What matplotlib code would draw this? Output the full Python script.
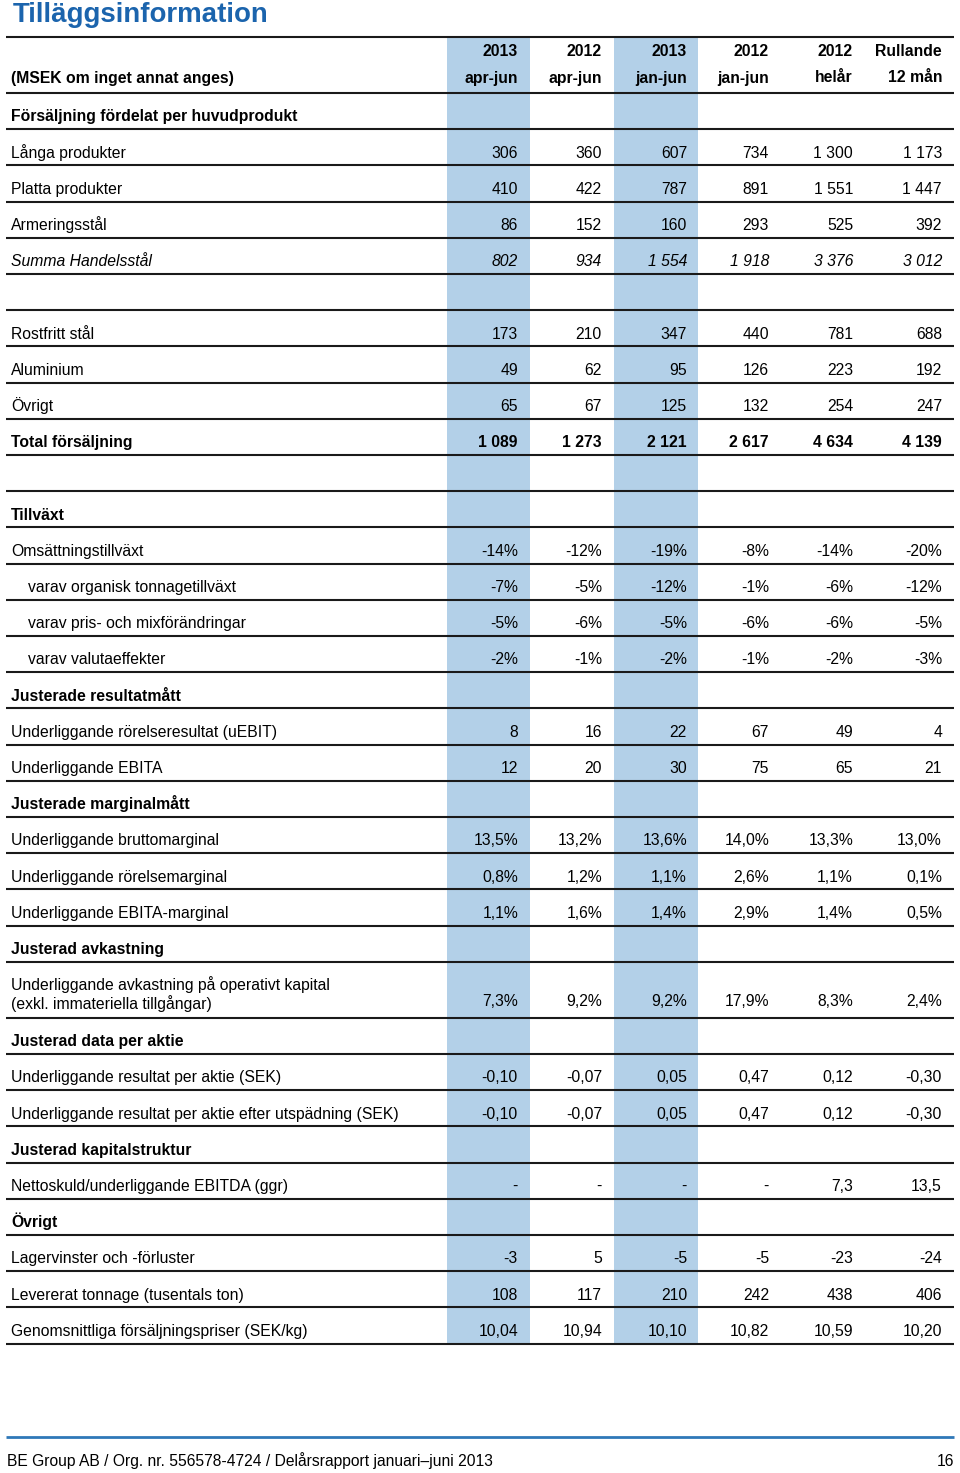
import matplotlib
matplotlib.use("Agg")
import matplotlib.pyplot as plt
from matplotlib import font_manager

names = {f.name for f in font_manager.fontManager.ttflist}
BODY = "Liberation Sans" if "Liberation Sans" in names else "DejaVu Sans"
NARROW = "Liberation Sans Narrow" if "Liberation Sans Narrow" in names else BODY

title = "Tilläggsinformation"
unit_label = "(MSEK om inget annat anges)"
col_head1 = ["2013", "2012", "2013", "2012", "2012", "Rullande"]
col_head2 = ["apr-jun", "apr-jun", "jan-jun", "jan-jun", "helår", "12 mån"]
highlight_cols = [0, 2]

labels = [
    "Försäljning fördelat per huvudprodukt", "Långa produkter", "Platta produkter",
    "Armeringsstål", "Summa Handelsstål", "", "Rostfritt stål", "Aluminium", "Övrigt",
    "Total försäljning", "", "Tillväxt", "Omsättningstillväxt",
    "varav organisk tonnagetillväxt", "varav pris- och mixförändringar",
    "varav valutaeffekter", "Justerade resultatmått",
    "Underliggande rörelseresultat (uEBIT)", "Underliggande EBITA",
    "Justerade marginalmått", "Underliggande bruttomarginal",
    "Underliggande rörelsemarginal", "Underliggande EBITA-marginal",
    "Justerad avkastning",
    "Underliggande avkastning på operativt kapital\n(exkl. immateriella tillgångar)",
    "Justerad data per aktie", "Underliggande resultat per aktie (SEK)",
    "Underliggande resultat per aktie efter utspädning (SEK)",
    "Justerad kapitalstruktur", "Nettoskuld/underliggande EBITDA (ggr)", "Övrigt",
    "Lagervinster och -förluster", "Levererat tonnage (tusentals ton)",
    "Genomsnittliga försäljningspriser (SEK/kg)",
]
# b = bold, i = italic, n = normal, s = indented
styles = ["b", "n", "n", "n", "i", "n", "n", "n", "n", "b", "n", "b", "n",
          "s", "s", "s", "b", "n", "n", "b", "n", "n", "n", "b", "n",
          "b", "n", "n", "b", "n", "b", "n", "n", "n"]

q2_2013 = ["", "306", "410", "86", "802", "", "173", "49", "65", "1 089", "", "",
           "-14%", "-7%", "-5%", "-2%", "", "8", "12", "", "13,5%", "0,8%", "1,1%",
           "", "7,3%", "", "-0,10", "-0,10", "", "-", "", "-3", "108", "10,04"]
q2_2012 = ["", "360", "422", "152", "934", "", "210", "62", "67", "1 273", "", "",
           "-12%", "-5%", "-6%", "-1%", "", "16", "20", "", "13,2%", "1,2%", "1,6%",
           "", "9,2%", "", "-0,07", "-0,07", "", "-", "", "5", "117", "10,94"]
h1_2013 = ["", "607", "787", "160", "1 554", "", "347", "95", "125", "2 121", "", "",
           "-19%", "-12%", "-5%", "-2%", "", "22", "30", "", "13,6%", "1,1%", "1,4%",
           "", "9,2%", "", "0,05", "0,05", "", "-", "", "-5", "210", "10,10"]
h1_2012 = ["", "734", "891", "293", "1 918", "", "440", "126", "132", "2 617", "", "",
           "-8%", "-1%", "-6%", "-1%", "", "67", "75", "", "14,0%", "2,6%", "2,9%",
           "", "17,9%", "", "0,47", "0,47", "", "-", "", "-5", "242", "10,82"]
fy_2012 = ["", "1 300", "1 551", "525", "3 376", "", "781", "223", "254", "4 634", "", "",
           "-14%", "-6%", "-6%", "-2%", "", "49", "65", "", "13,3%", "1,1%", "1,4%",
           "", "8,3%", "", "0,12", "0,12", "", "7,3", "", "-23", "438", "10,59"]
r12 = ["", "1 173", "1 447", "392", "3 012", "", "688", "192", "247", "4 139", "", "",
       "-20%", "-12%", "-5%", "-3%", "", "4", "21", "", "13,0%", "0,1%", "0,5%",
       "", "2,4%", "", "-0,30", "-0,30", "", "13,5", "", "-24", "406", "10,20"]
columns = [q2_2013, q2_2012, h1_2013, h1_2012, fy_2012, r12]

footer = "BE Group AB / Org. nr. 556578-4724 / Delårsrapport januari–juni 2013"
page_no = "16"

# ---- layout (pixels) ----
W, H = 960, 1473
fig = plt.figure(figsize=(W / 100, H / 100), dpi=100)
ax = fig.add_axes([0, 0, 1, 1])
ax.set_xlim(0, W)
ax.set_ylim(H, 0)
ax.axis("off")

BLUE_BAND = "#b3d0e8"
LINE = "#1a1a1a"
TITLE_BLUE = "#1b64ad"
FS = 11.3

x_left, x_right = 6, 954
col_right = [518, 602, 687, 769, 853, 942]
band_x = [(447, 530), (614, 698)]
top_line = 37
head_bottom = 93
row_h = 36.2
double_h = 56

# row boundaries
bounds = [head_bottom]
for lab in labels:
    bounds.append(bounds[-1] + (double_h if "\n" in lab else row_h))
table_bottom = bounds[-1]

for (a, b) in band_x:
    ax.add_patch(plt.Rectangle((a, top_line), b - a, table_bottom - top_line,
                               color=BLUE_BAND, lw=0, zorder=1))

for yb in [top_line] + bounds:
    ax.plot([x_left, x_right], [yb, yb], color=LINE, lw=1.5, zorder=3,
            solid_capstyle="butt")

ax.text(13, 22, title, fontsize=19.9, fontweight="bold", color=TITLE_BLUE,
        family=BODY, va="baseline", ha="left")

ax.text(11, 82.5, unit_label, fontsize=FS, fontweight="bold", family=BODY,
        va="baseline", ha="left")
for j in range(6):
    ax.text(col_right[j], 56.5, col_head1[j], fontsize=FS, fontweight="bold",
            family=BODY, va="baseline", ha="right")
    ax.text(col_right[j], 82.5, col_head2[j], fontsize=FS, fontweight="bold",
            family=BODY, va="baseline", ha="right")

for i, lab in enumerate(labels):
    y0, y1 = bounds[i], bounds[i + 1]
    st = styles[i]
    weight = "bold" if st == "b" else "normal"
    fstyle = "italic" if st == "i" else "normal"
    x = 28 if st == "s" else 11
    if "\n" in lab:
        l1, l2 = lab.split("\n")
        ax.text(x, y0 + 28, l1, fontsize=FS, family=BODY, va="baseline", ha="left")
        ax.text(x, y0 + 47.5, l2, fontsize=FS, family=BODY, va="baseline", ha="left")
        base = y1 - 11.5
    else:
        base = y1 - 7.8
        ax.text(x, base, lab, fontsize=FS, family=BODY, fontweight=weight,
                fontstyle=fstyle, va="baseline", ha="left")
    for j, col in enumerate(columns):
        v = col[i]
        if v:
            ax.text(col_right[j], base, v, fontsize=FS, family=BODY,
                    fontweight=weight, fontstyle=fstyle, va="baseline", ha="right")

# footer
ax.plot([x_left, x_right], [1437, 1437], color="#2f78b8", lw=2.0,
        solid_capstyle="butt")
ax.text(7, 1466, footer, fontsize=11.25, family=NARROW, va="baseline", ha="left")
ax.text(954, 1466, page_no, fontsize=11.25, family=NARROW, va="baseline", ha="right")

fig.savefig("out.png", dpi=100)
